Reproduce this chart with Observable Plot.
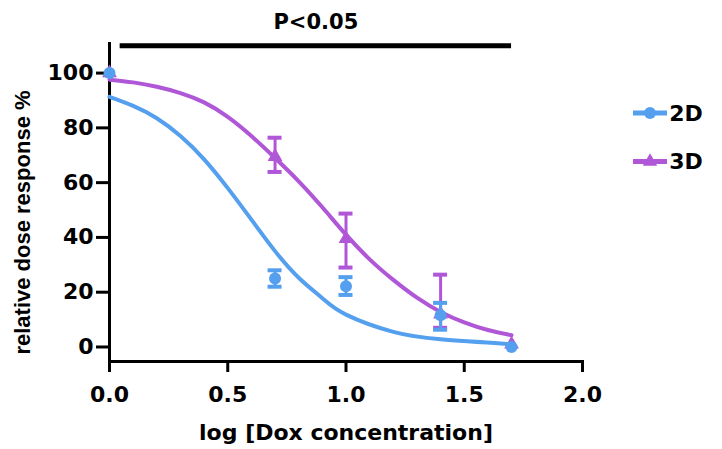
<!DOCTYPE html>
<html>
<head>
<meta charset="utf-8">
<script src="https://cdn.jsdelivr.net/npm/d3@7"></script>
<script src="https://cdn.jsdelivr.net/npm/@observablehq/plot@0.6"></script>
<style>
  html, body { margin: 0; padding: 0; background: #fff; }
  #chart { position: relative; width: 722px; height: 449px; }
</style>
</head>
<body>
<div id="chart"></div>
<script>
// ---- data ----
const seriesNames = ["2D", "3D"];
const doses = [0, 0.7, 1.0, 1.4, 1.7];
const mean2D = [100, 25, 22.2, 11.6, 0];
const lo2D = [null, 22, 19, 6.3, null];
const hi2D = [null, 28, 25.5, 16.1, null];
const mean3D = [100, 69.5, 39.5, 12, 1];
const lo3D = [null, 63.9, 29, 7, null];
const hi3D = [null, 76.4, 48.7, 26.4, null];

// fitted curves
const curveX2D = [0, 0.1, 0.2, 0.3, 0.4, 0.5, 0.6, 0.7, 0.8, 0.9, 1.0, 1.2, 1.4, 1.7];
const curveY2D = [91.3, 88, 83.5, 77, 68.5, 58, 46.5, 35, 25.3, 17.8, 11.8, 5.5, 2.8, 1.0];
const curveX3D = [0, 0.1, 0.2, 0.3, 0.4, 0.5, 0.6, 0.7, 0.8, 0.9, 1.0, 1.1, 1.2, 1.3, 1.4, 1.5, 1.6, 1.7];
const curveY3D = [97.6, 96.6, 95, 92.7, 89.3, 84, 77, 69, 60.5, 51, 41, 32, 24.5, 18, 12.8, 9, 6.2, 4.3];

const xTicks = [0, 0.5, 1.0, 1.5, 2.0];
const yTicks = [0, 20, 40, 60, 80, 100];
const sigLabel = "P<0.05";
const sigX1 = [0.045];
const sigX2 = [1.7];
const sigY = [110];
const xTitle = "log [Dox concentration]";
const yTitle = "relative dose response %";

// ---- tables ----
const blue = "#559FEF";
const purple = "#B057D8";
const pts2D = doses.map((d, i) => ({x: d, y: mean2D[i], lo: lo2D[i], hi: hi2D[i]}));
const pts3D = doses.map((d, i) => ({x: d, y: mean3D[i], lo: lo3D[i], hi: hi3D[i]}));
const err2D = pts2D.filter(d => d.lo != null);
const err3D = pts3D.filter(d => d.lo != null);
const curve2D = curveX2D.map((x, i) => ({x, y: curveY2D[i]}));
const curve3D = curveX3D.map((x, i) => ({x, y: curveY3D[i]}));
const sig = sigY.map((y, i) => ({y, x1: sigX1[i], x2: sigX2[i], xm: (sigX1[i] + sigX2[i]) / 2, label: sigLabel}));

const hFont = "DejaVu Sans, Liberation Sans, Arial, sans-serif";

function errMarks(data, color) {
  return [
    Plot.ruleX(data, {x: "x", y1: "lo", y2: "hi", stroke: color, strokeWidth: 3}),
    Plot.ruleY(data, {y: "lo", x1: "x", x2: "x", insetLeft: -7, insetRight: -7, stroke: color, strokeWidth: 4}),
    Plot.ruleY(data, {y: "hi", x1: "x", x2: "x", insetLeft: -7, insetRight: -7, stroke: color, strokeWidth: 4})
  ];
}

const svg = Plot.plot({
  width: 722,
  height: 449,
  marginLeft: 109,
  marginRight: 140,
  marginTop: 43,
  marginBottom: 88,
  x: {domain: [0, 2]},
  y: {domain: [-5.3, 110.8]},
  style: {fontFamily: hFont, fontWeight: "bold", background: "white", color: "black", overflow: "visible"},
  marks: [
    Plot.axisX({ticks: xTicks, tickFormat: d => d.toFixed(1), tickSize: 11, tickPadding: 14, strokeWidth: 3, fontSize: 22, label: null}),
    Plot.axisY({ticks: yTicks, tickSize: 13, tickPadding: 3, strokeWidth: 3, fontSize: 22, label: null}),
    Plot.frame({anchor: "left", strokeWidth: 3}),
    Plot.frame({anchor: "bottom", strokeWidth: 3}),
    Plot.text([xTitle], {frameAnchor: "bottom", dy: 71, lineAnchor: "middle", fontSize: 22, fontWeight: "bold"}),
    Plot.text([yTitle], {frameAnchor: "left", textAnchor: "middle", lineAnchor: "middle", rotate: -90, dx: -87, dy: 20, fontSize: 22, fontWeight: "bold", fontFamily: "Liberation Sans, Arial, sans-serif"}),
    Plot.ruleY(sig, {y: "y", x1: "x1", x2: "x2", strokeWidth: 5, stroke: "black"}),
    Plot.text(sig, {x: "xm", y: "y", text: "label", dy: -23, fontSize: 21, fontWeight: "bold"}),
    // 3D
    Plot.line(curve3D, {x: "x", y: "y", stroke: purple, strokeWidth: 4, curve: "natural"}),
    ...errMarks(err3D, purple),
    Plot.dot(pts3D, {x: "x", y: "y", symbol: "triangle", r: 5.5, fill: purple}),
    // 2D
    Plot.line(curve2D, {x: "x", y: "y", stroke: blue, strokeWidth: 4, curve: "natural"}),
    ...errMarks(err2D, blue),
    Plot.dot(pts2D, {x: "x", y: "y", r: 6, fill: blue})
  ]
});

// legend
const lg = d3.select(svg).append("g").attr("font-family", hFont).attr("font-weight", "bold");
const legendItems = [
  {name: seriesNames[0], color: blue, sym: d3.symbolCircle, size: 110},
  {name: seriesNames[1], color: purple, sym: d3.symbolTriangle, size: 90}
];
legendItems.forEach((it, i) => {
  const cy = 113 + i * 48.5;
  const g = lg.append("g").attr("transform", `translate(0,${cy})`);
  g.append("line").attr("x1", 633).attr("x2", 667).attr("y1", 0).attr("y2", 0)
    .attr("stroke", it.color).attr("stroke-width", 5);
  g.append("path").attr("transform", "translate(650,0)")
    .attr("d", d3.symbol(it.sym, it.size)()).attr("fill", it.color);
  g.append("text").attr("x", 686).attr("y", 0).attr("dy", "0.36em")
    .attr("font-size", 22).attr("fill", "black").text(it.name);
});

document.getElementById("chart").appendChild(svg);
</script>
</body>
</html>
